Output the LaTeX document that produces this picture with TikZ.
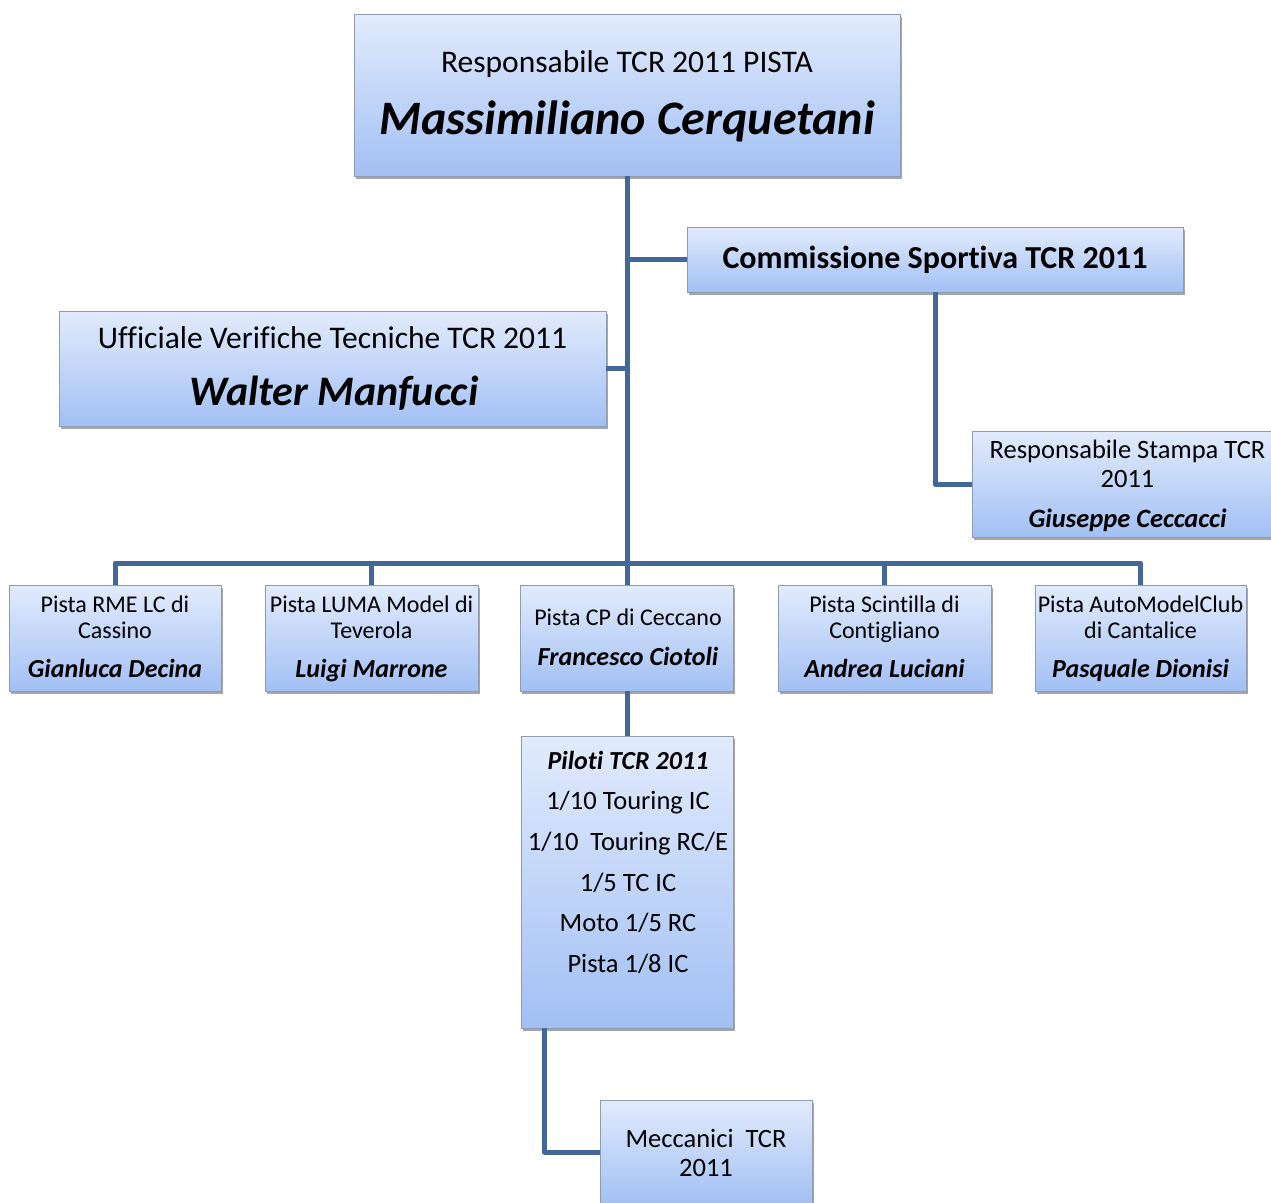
\documentclass[tikz,border=0pt]{standalone}
\usepackage{fontspec}
\setmainfont[Ligatures=NoCommon]{Carlito}
\usetikzlibrary{shadows}
\definecolor{boxtop}{HTML}{E2EBFD}
\definecolor{boxbot}{HTML}{A2C0F4}
\definecolor{boxline}{HTML}{8F9CB0}
\definecolor{conncol}{HTML}{436799}
\newcommand\fsz[1]{\fontsize{#1}{#1}\selectfont}
\begin{document}
\begin{tikzpicture}[x=1pt,y=-1pt,
  box/.style={draw=boxline, line width=0.9pt, top color=boxtop, bottom color=boxbot, inner sep=0pt,
    drop shadow={shadow xshift=1.5pt, shadow yshift=-2.5pt, opacity=0.35, fill=black}},
  conn/.style={draw=conncol, line width=5pt, line join=round},
  txt/.style={anchor=base, inner sep=0pt},
  big/.style={txt, font=\fsz{31.5}},
  sm/.style={txt, font=\fsz{24}},
  smname/.style={txt, font=\fsz{26}\bfseries\itshape},
  mid/.style={txt, font=\fsz{26.5}}]
\useasboundingbox (0,0) rectangle (1271,1202);

% boxes
\node[box, minimum width=546pt, minimum height=162pt] (top) at (627,95) {};
\node[box, minimum width=496pt, minimum height=65pt] (comm) at (935,259.5) {};
\node[box, minimum width=547pt, minimum height=115pt] (uff) at (332.5,368.5) {};
\node[box, minimum width=311pt, minimum height=106pt] (stampa) at (1127.5,484) {};
\node[box, minimum width=212pt, minimum height=106pt] (b1) at (115,638) {};
\node[box, minimum width=213pt, minimum height=106pt] (b2) at (371.5,638) {};
\node[box, minimum width=213pt, minimum height=106pt] (b3) at (627,638) {};
\node[box, minimum width=213pt, minimum height=106pt] (b4) at (884.5,638) {};
\node[box, minimum width=211pt, minimum height=106pt] (b5) at (1140.5,638) {};
\node[box, minimum width=212pt, minimum height=292pt] (pil) at (627,882) {};
\node[box, minimum width=212pt, minimum height=104pt] (mec) at (706,1152) {};

% connectors
\coordinate (bus) at (627,563);
\coordinate (pilout) at (544,1028);
\draw[conn] (top.south) -- (b3.north);
\draw[conn] (comm.west) -- (comm.west -| top.south);
\draw[conn] (uff.east) -- (uff.east -| top.south);
\draw[conn] (comm.south) -- (comm.south |- stampa.west) -- (stampa.west);
\draw[conn] (b1.north) -- (b1.north |- bus) -- (b5.north |- bus) -- (b5.north);
\draw[conn] (b2.north) -- (b2.north |- bus);
\draw[conn] (b4.north) -- (b4.north |- bus);
\draw[conn] (b3.south) -- (pil.north);
\draw[conn] (pilout) -- (pilout |- mec.west) -- (mec.west);

% texts
\node[big] (topA) at (627,72) {Responsabile TCR 2011 PISTA};
\node[txt, font=\fsz{48}\bfseries\itshape] (topB) at (627,134) {Massimiliano Cerquetani};
\node[txt, font=\fsz{32}\bfseries] (commA) at (935,268) {Commissione Sportiva TCR 2011};
\node[big] (uffA) at (332.5,348) {Ufficiale Verifiche Tecniche TCR 2011};
\node[txt, font=\fsz{42}\bfseries\itshape] (uffB) at (334,405) {Walter Manfucci};
\node[mid] (stA) at (1127.5,458) {Responsabile Stampa TCR};
\node[mid] (stB) at (1127.5,487) {2011};
\node[txt, font=\fsz{26.5}\bfseries\itshape] (stC) at (1127.5,527) {Giuseppe Ceccacci};

\node[sm] (b1A) at (115,612) {Pista RME LC di};
\node[sm] (b1B) at (115,638) {Cassino};
\node[smname] (b1C) at (115,677) {Gianluca Decina};
\node[sm] (b2A) at (371.5,612) {Pista LUMA Model di};
\node[sm] (b2B) at (371.5,638) {Teverola};
\node[smname] (b2C) at (371.5,677) {Luigi Marrone};
\node[sm] (b3A) at (628,625) {Pista CP di Ceccano};
\node[smname] (b3B) at (628,665) {Francesco Ciotoli};
\node[sm] (b4A) at (884.5,612) {Pista Scintilla di};
\node[sm] (b4B) at (884.5,638) {Contigliano};
\node[smname] (b4C) at (884.5,677) {Andrea Luciani};
\node[sm] (b5A) at (1140.5,612) {Pista AutoModelClub};
\node[sm] (b5B) at (1140.5,638) {di Cantalice};
\node[smname] (b5C) at (1140.5,677) {Pasquale Dionisi};

\node[txt, font=\fsz{26}\bfseries\itshape] (p1) at (628,769) {Piloti TCR 2011};
\node[mid] (p2) at (628,809) {1/10 Touring IC};
\node[mid] (p3) at (628,850) {1/10\ \ Touring RC/E};
\node[mid] (p4) at (628,891) {1/5 TC IC};
\node[mid] (p5) at (628,931) {Moto 1/5 RC};
\node[mid] (p6) at (628,972) {Pista 1/8 IC};

\node[mid] (m1) at (706,1147) {Meccanici\ \ TCR};
\node[mid] (m2) at (706,1176) {2011};
\end{tikzpicture}
\end{document}
